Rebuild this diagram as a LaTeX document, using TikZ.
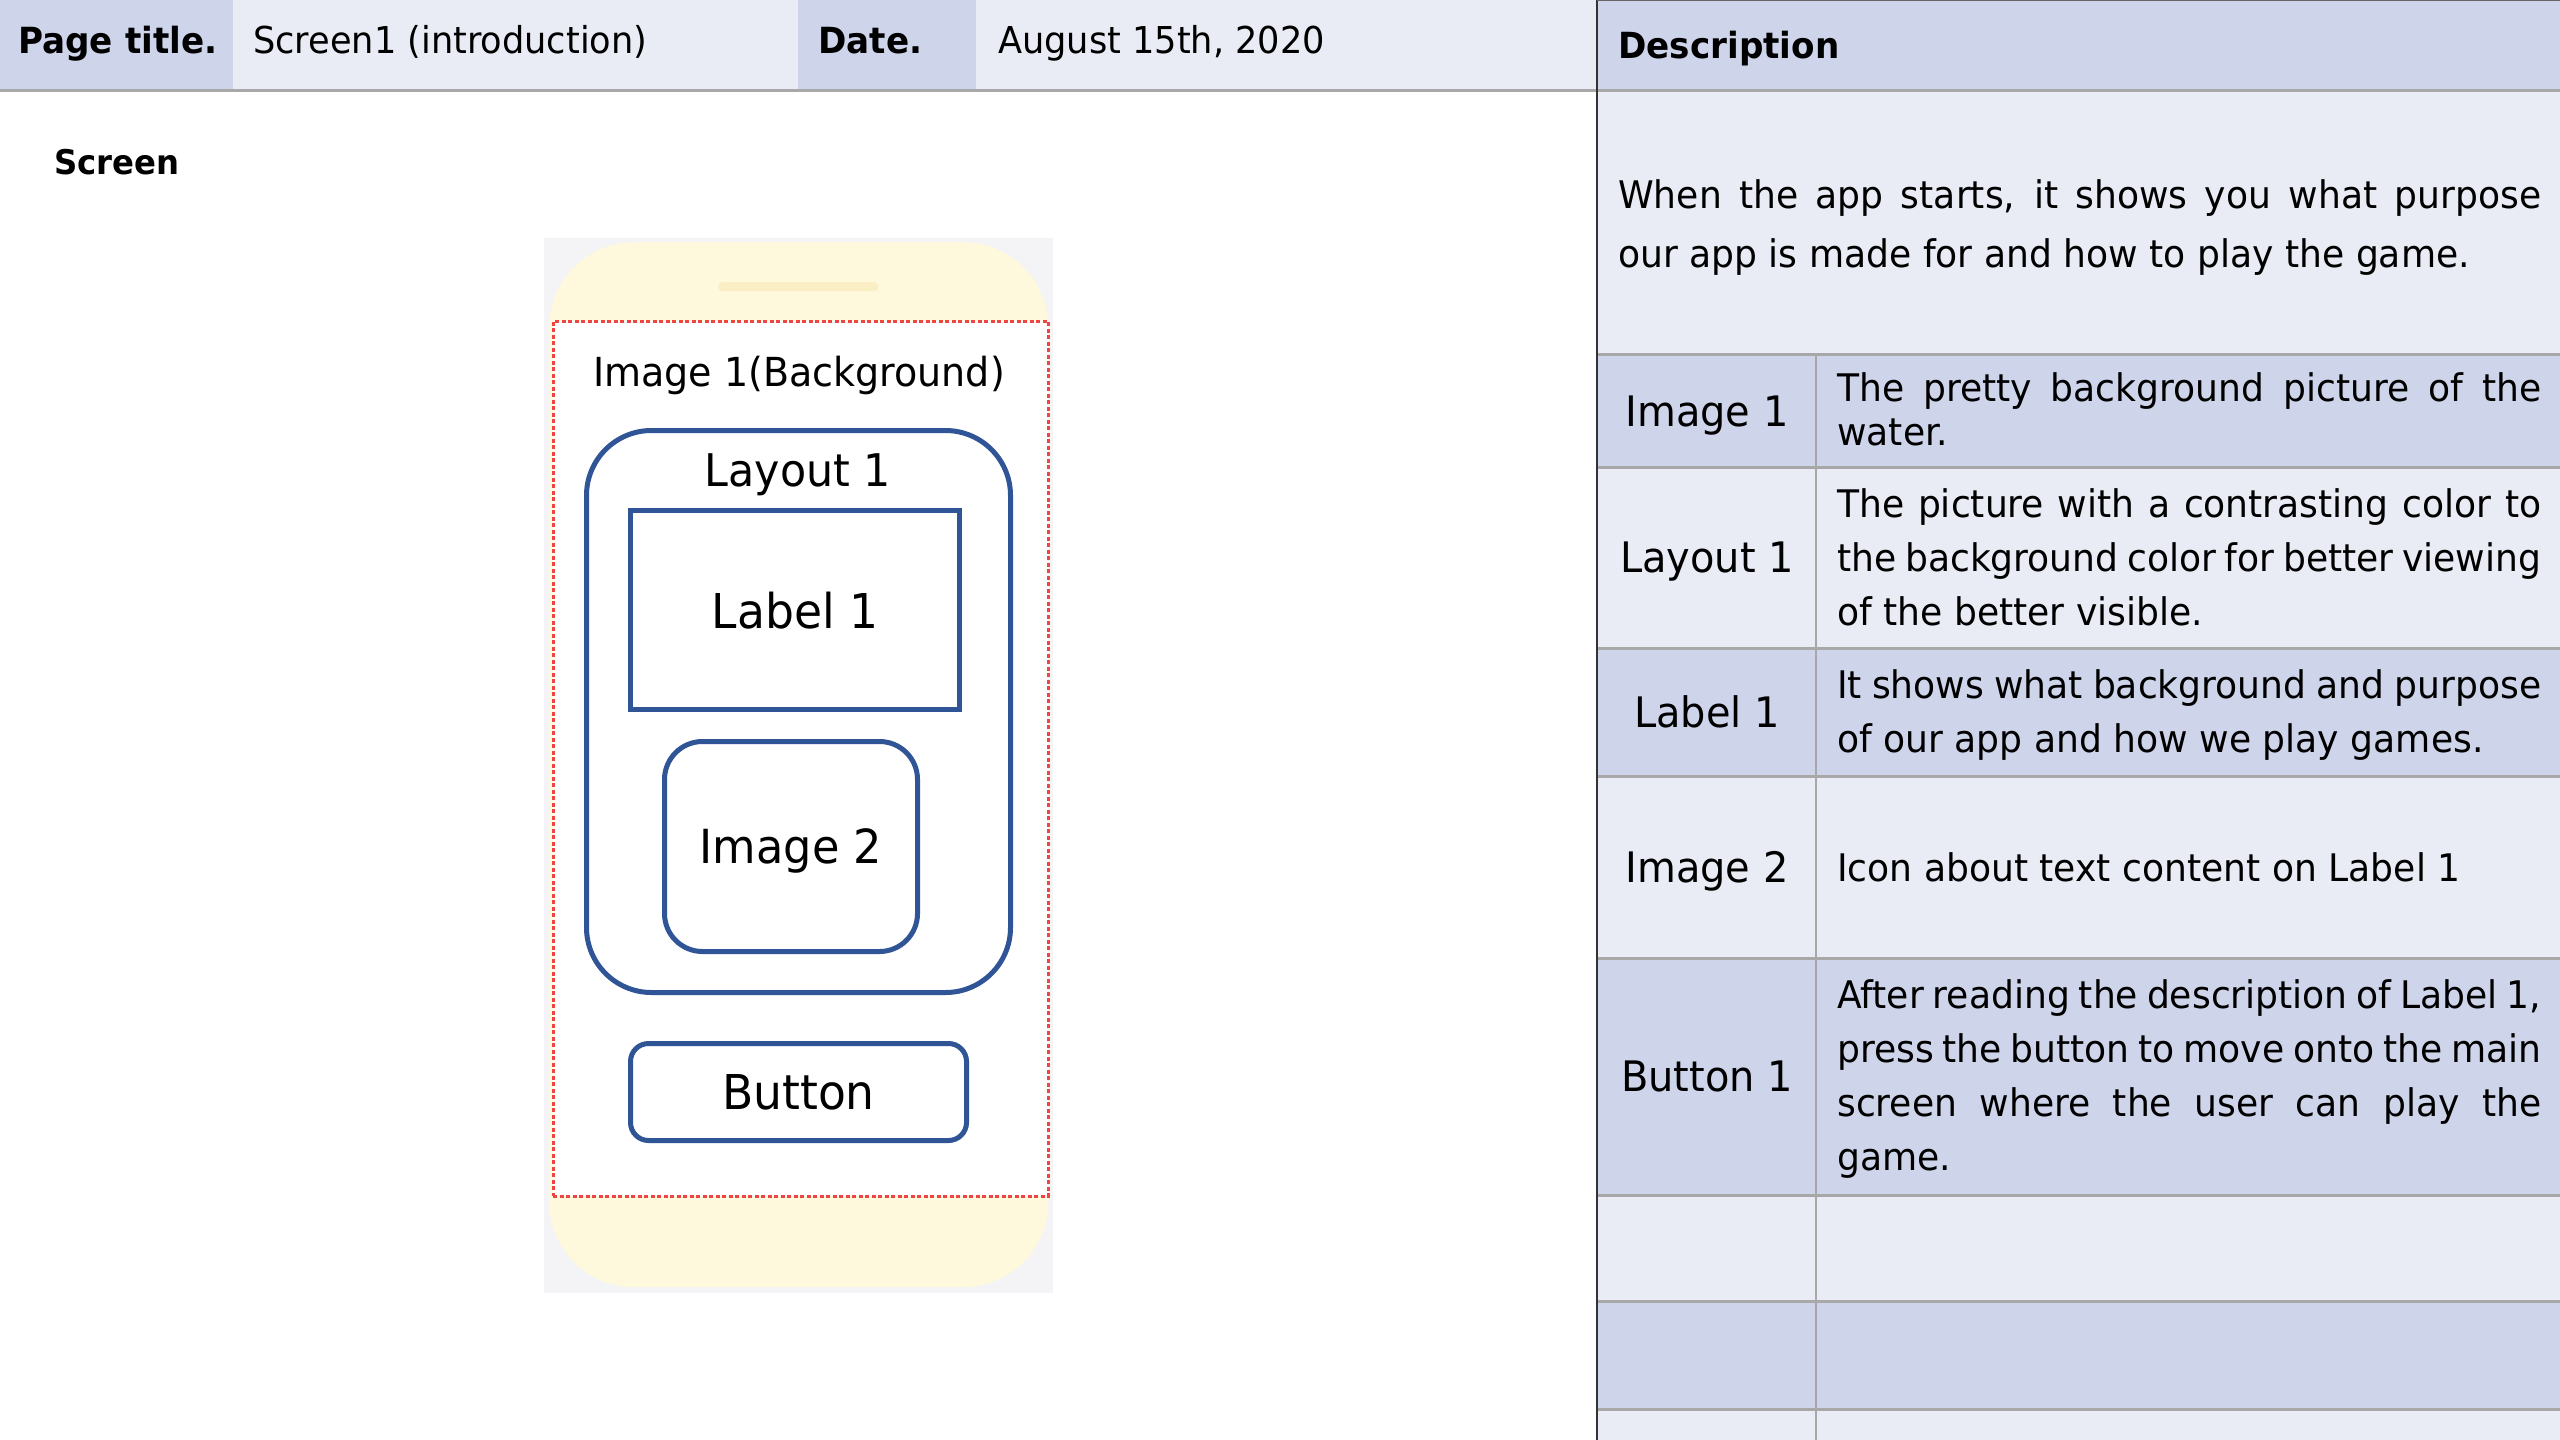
\documentclass[tikz,border=0pt]{standalone}
\usepackage{fontspec}
\newfontfamily\cs{DejaVu Sans}[FakeStretch=0.95]
\definecolor{celldark}{HTML}{CED4EA}
\definecolor{celllight}{HTML}{E9EBF5}
\definecolor{gridgray}{HTML}{A8A8A8}
\definecolor{uiblue}{HTML}{2F5597}
\definecolor{phonebg}{HTML}{F4F4F6}
\definecolor{phoneyel}{HTML}{FEF8DC}
\definecolor{speakercol}{HTML}{FAEEC4}
\definecolor{dotred}{HTML}{EE4444}
\newcommand\fsz[2]{\fontsize{#1bp}{#2bp}\selectfont}
\newcommand\jline[1]{\makebox[704bp][s]{#1}}
\newcommand\lline[1]{\makebox[704bp][l]{#1}}
\tikzset{
  hdrbold/.style={inner sep=0pt, anchor=base west, font=\cs\bfseries\fsz{36}{40}},
  hdrtxt/.style={inner sep=0pt, anchor=base west, font=\cs\fsz{37}{40}},
  rowlabel/.style={inner sep=0pt, anchor=base, font=\cs\fsz{42}{48}},
  rowtext/.style={inner sep=0pt, anchor=base west},
  gridline/.style={draw=gridgray, line width=3bp},
  uibox/.style={draw=uiblue, line width=5bp, fill=white, inner sep=0pt, anchor=north west, text depth=0pt},
}
\begin{document}
\begin{tikzpicture}[x=1bp,y=-1bp]
\useasboundingbox (0,0) rectangle (2560,1440);
\fill[white] (0,0) rectangle (2560,1440);

% header cells (left)
\fill[celldark]  (0,0) rectangle (233,91);
\fill[celllight] (233,0) rectangle (798,91);
\fill[celldark]  (798,0) rectangle (976,91);
\fill[celllight] (976,0) rectangle (1597,91);

% right panel rows
\fill[celldark]  (1597,0) rectangle (2560,91);
\fill[celllight] (1597,91) rectangle (2560,354);
\fill[celldark]  (1597,354) rectangle (2560,467);
\fill[celllight] (1597,467) rectangle (2560,648);
\fill[celldark]  (1597,648) rectangle (2560,776);
\fill[celllight] (1597,776) rectangle (2560,958);
\fill[celldark]  (1597,958) rectangle (2560,1195);
\fill[celllight] (1597,1195) rectangle (2560,1301);
\fill[celldark]  (1597,1301) rectangle (2560,1409);
\fill[celllight] (1597,1409) rectangle (2560,1440);

% grid lines
\draw[gridline] (0,91) -- (2560,91);
\foreach \yy in {354,467,648,776,958,1195,1301,1409}
  \draw[gridline] (1597,\yy) -- (2560,\yy);
\draw[draw=gridgray, line width=2.5bp] (1816,354) -- (1816,1440);
\draw[draw=black!80, line width=2.5bp] (1597,0) -- (1597,1440);
\draw[draw=black!60, line width=1.5bp] (1597,0.75) -- (2560,0.75);

% header texts
\node[hdrbold] (pt) at (18,54) {Page title.};
\node[hdrtxt] (ptv) at (253,54) {Screen1 (introduction)};
\node[hdrbold] (dt) at (818,54) {Date.};
\node[hdrtxt] (dtv) at (998,54) {August 15th, 2020};
\node[hdrbold] (desc) at (1618,59) {Description};
\node[inner sep=0pt, anchor=base west, font=\cs\bfseries\fsz{34}{40}] (scr) at (54,175) {Screen};

% description paragraph
\node[rowtext] (dpar) at (1618,209) {\parbox[t]{923bp}{\cs\fsz{38}{58}%
  \makebox[923bp][s]{When the app starts, it shows you what purpose}\\
  our app is made for and how to play the game.}};

% row labels
\node[rowlabel] (r1) at (1707,426) {Image 1};
\node[rowlabel] (r2) at (1707,572) {Layout 1};
\node[rowlabel] (r3) at (1707,727) {Label 1};
\node[rowlabel] (r4) at (1707,882) {Image 2};
\node[rowlabel] (r5) at (1707,1091) {Button 1};

% row texts
\node[rowtext] (t1) at (1837,401) {\parbox[t]{704bp}{\cs\fsz{38}{44}%
  \jline{The pretty background picture of the}\\\lline{water.}}};
\node[rowtext] (t2) at (1837,517) {\parbox[t]{704bp}{\cs\fsz{38}{54}%
  \jline{The picture with a contrasting color to}\\
  \jline{the background color for better viewing}\\
  \lline{of the better visible.}}};
\node[rowtext] (t3) at (1837,698) {\parbox[t]{704bp}{\cs\fsz{38}{54}%
  \jline{It shows what background and purpose}\\
  \lline{of our app and how we play games.}}};
\node[rowtext] (t4) at (1837,881) {\parbox[t]{704bp}{\cs\fsz{38}{54}%
  \lline{Icon about text content on Label 1}}};
\node[rowtext] (t5) at (1837,1008) {\parbox[t]{704bp}{\cs\fsz{38}{54}%
  \jline{After reading the description of Label 1,}\\
  \jline{press the button to move onto the main}\\
  \jline{screen where the user can play the}\\
  \lline{game.}}};

% phone mockup
\node[fill=phonebg, inner sep=0pt, anchor=north west, minimum width=509bp, minimum height=1055bp] (phbg) at (544,238) {};
\node[fill=phoneyel, rounded corners=85bp, inner sep=0pt, anchor=north west, minimum width=499bp, minimum height=1045bp] (phbody) at (549,242) {};
\node[fill=speakercol, rounded corners=4bp, inner sep=0pt, anchor=north west, minimum width=160bp, minimum height=9bp] (spk) at (718,282) {};
\node[fill=white, draw=dotred, line width=2.5bp, dash pattern=on 4bp off 2.5bp, inner sep=0pt, anchor=north west, minimum width=495bp, minimum height=875bp] (screen) at (552,320) {};
\node[inner sep=0pt, anchor=base, font=\cs\fsz{40}{48}] (bgtxt) at (799,386) {Image 1(Background)};
\node[uibox, rounded corners=65bp, minimum width=424bp, minimum height=562bp] (layout) at (584,428) {};
\node[inner sep=0pt, anchor=base, font=\cs\fsz{45}{52}] (laytxt) at (798,486) {Layout 1};
\node[uibox, minimum width=329bp, minimum height=199bp, font=\cs\fsz{48}{56}] (label) at (628,508) {Label 1};
\node[uibox, rounded corners=38bp, minimum width=253bp, minimum height=210bp, font=\cs\fsz{47}{56}] (img2) at (662,739) {Image 2};
\node[uibox, rounded corners=18bp, minimum width=336bp, minimum height=97bp, font=\cs\fsz{48}{56}] (btn) at (628,1041) {Button};
\end{tikzpicture}
\end{document}
